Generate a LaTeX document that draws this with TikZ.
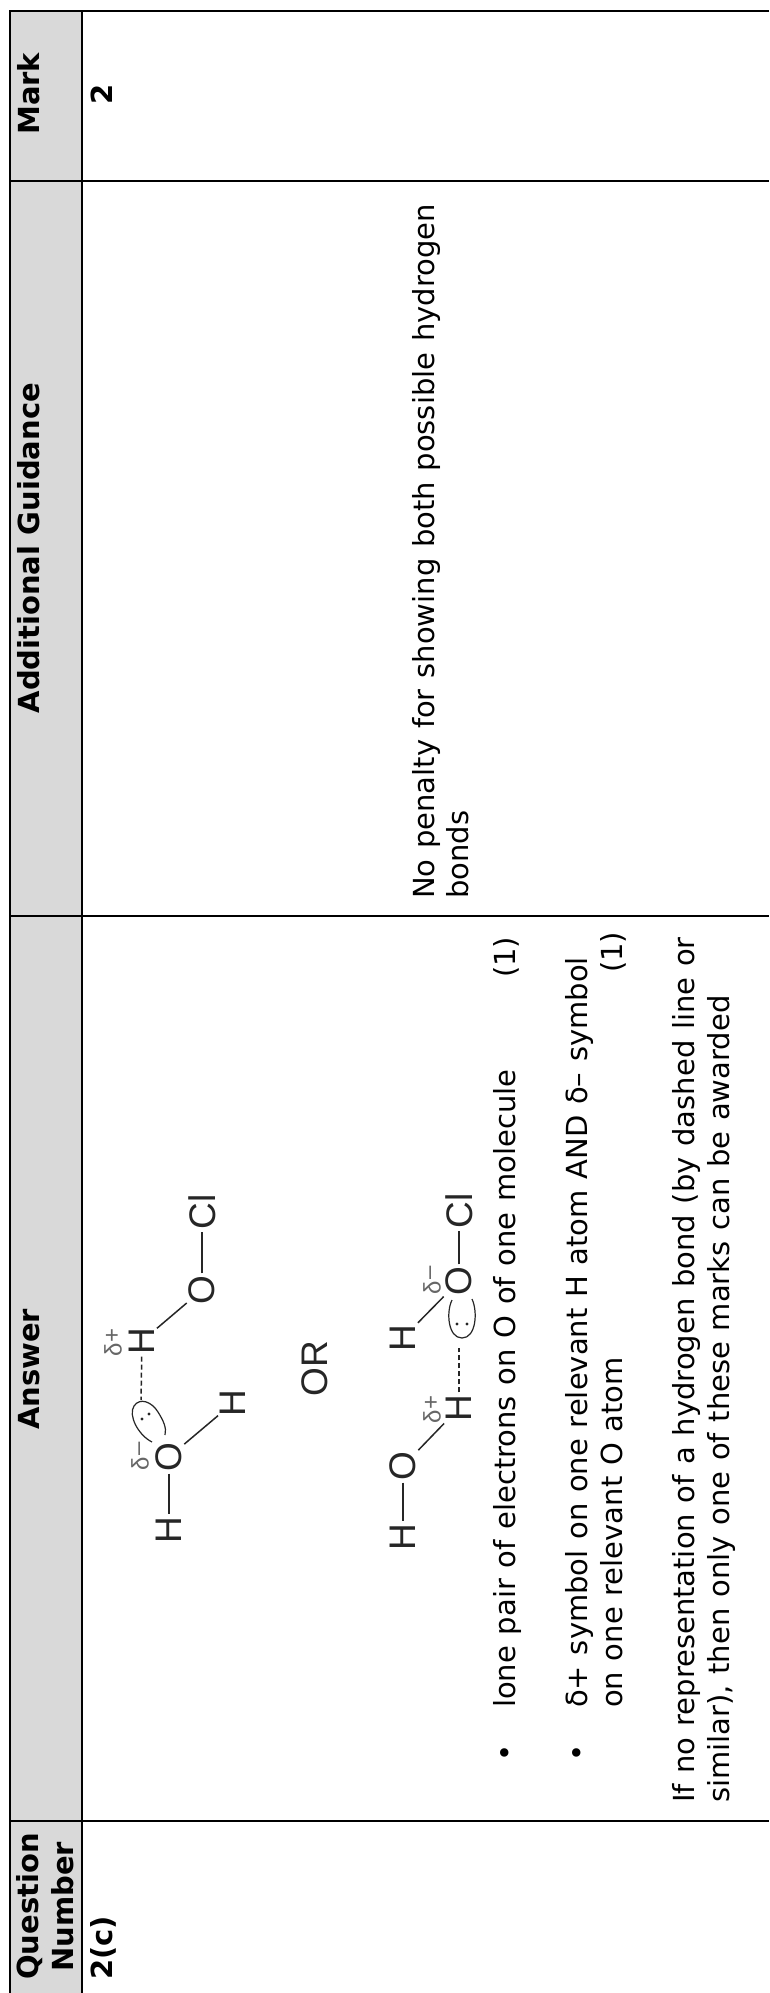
\documentclass[tikz,border=0pt]{standalone}
\usepackage{fontspec}
\setmainfont{DejaVu Sans}
\newfontfamily\atomfont{Liberation Sans}
\newfontfamily\bodyfont[WordSpace=1.16]{DejaVu Sans}
\tikzset{
  rule/.style={draw=black,line width=2pt},
  thinrule/.style={draw=black,line width=1.5pt},
  txt/.style={rotate=90,anchor=base west,inner sep=0pt,font=\bodyfont\fontsize{29}{29}\selectfont},
  head/.style={rotate=90,anchor=base west,inner sep=0pt,font=\fontsize{29}{29}\selectfont\bfseries},
  atom/.style={rotate=90,inner sep=2pt,text=black!85,font=\atomfont\fontsize{37}{37}\selectfont},
  charge/.style={rotate=90,inner sep=0pt,text=black!60,font=\atomfont\fontsize{24}{24}\selectfont},
  bond/.style={draw=black!85,line width=1.5pt},
  hbond/.style={draw=black!85,line width=1.5pt,dash pattern=on 5pt off 3pt},
  lobe/.style={draw=black!85,line width=1.2pt},
  pairdot/.style={fill=black!85,draw=none}
}
\begin{document}
\begin{tikzpicture}[x=1pt,y=-1pt]
\useasboundingbox (0,0) rectangle (769,1993);
\fill[white] (0,0) rectangle (769,1993);
\fill[black!15] (10,11.5) rectangle (82,1993);
\draw[rule] (769,11.5) -- (10,11.5) -- (10,1993);
\draw[rule] (82,11.5) -- (82,1993);
\draw[thinrule] (10,181) -- (769,181);
\draw[rule] (10,916) -- (769,916);
\draw[rule] (10,1821) -- (769,1821);
% headers
\node[head] (hmark) at (39,135) {Mark};
\node[head] (hadd) at (39,713.5) {Additional Guidance};
\node[head] (hans) at (39,1430) {Answer};
\node[head] (hq1) at (38,1980) {Question};
\node[head] (hq2) at (73.5,1972) {Number};
\node[head] (qno) at (112,1980) {2(c)};
\node[head] (mk) at (112,105) {2};
% guidance
\node[txt] (g1) at (434,899) {No penalty for showing both possible hydrogen};
\node[txt] (g2) at (468,899) {bonds};
% answer text
\node[txt] (b1) at (515,1762) {•};
\node[txt] (a1) at (515,1708) {lone pair of electrons on O of one molecule};
\node[txt] (m1) at (515,978) {(1)};
\node[txt] (b2) at (587,1762) {•};
\node[txt] (a2) at (587,1708) {δ+ symbol on one relevant H atom AND δ– symbol};
\node[txt] (a3) at (622,1708) {on one relevant O atom};
\node[txt] (m2) at (622,973) {(1)};
\node[txt] (a4) at (694,1803) {If no representation of a hydrogen bond (by dashed line or};
\node[txt] (a5) at (729,1803) {similar), then only one of these marks can be awarded};
% first structure
\node[atom] (cla) at (202,1212) {Cl};
\node[atom] (oa) at (202,1290) {O};
\node[atom] (hb) at (142,1341) {H};
\node[atom] (ob) at (169,1457) {O};
\node[atom] (hc) at (233,1403) {H};
\node[atom] (hd) at (169,1530) {H};
\node[charge] (dpa) at (113,1350) {δ};
\node[charge] (pa) at (113,1335) {+};
\node[charge] (dma) at (140,1464) {δ};
\node[charge] (ma) at (142,1449) {–};
\coordinate (lobea) at (141,1400);
\draw[bond] (oa) -- (cla);
\draw[bond] (oa) -- (hb);
\draw[hbond] (hb) -- (lobea);
\draw[bond] (ob) -- (hc);
\draw[bond] (ob) -- (hd);
\draw[lobe] (152,1442) .. controls (138,1435) and (128,1415) .. (134,1406) .. controls (140,1397) and (152,1402) .. (158,1412) .. controls (163,1420) and (167,1428) .. (165,1435);
\fill[pairdot] (142,1419) circle (1.6);
\fill[pairdot] (149,1414) circle (1.6);
\node[atom] (or) at (315,1369) {OR};
% second structure
\node[atom] (cle) at (459,1211) {Cl};
\node[atom] (oe) at (459,1281) {O};
\node[atom] (hf) at (403,1338) {H};
\node[atom] (hg) at (459,1408) {H};
\node[atom] (oh) at (403,1466) {O};
\node[atom] (hi) at (403,1537) {H};
\node[charge] (dme) at (432,1288) {δ};
\node[charge] (me) at (433,1273) {–};
\node[charge] (dpe) at (432,1417) {δ};
\node[charge] (pe) at (432,1402) {+};
\coordinate (lobee) at (459,1348);
\draw[bond] (oe) -- (cle);
\draw[bond] (oe) -- (hf);
\draw[hbond] (hg) -- (lobee);
\draw[bond] (hg) -- (oh);
\draw[bond] (oh) -- (hi);
\draw[lobe] (452,1300) .. controls (446,1312) and (448,1338) .. (462,1338) .. controls (476,1338) and (478,1312) .. (472,1299);
\fill[pairdot] (457,1324) circle (1.6);
\fill[pairdot] (467,1324) circle (1.6);
\end{tikzpicture}
\end{document}
